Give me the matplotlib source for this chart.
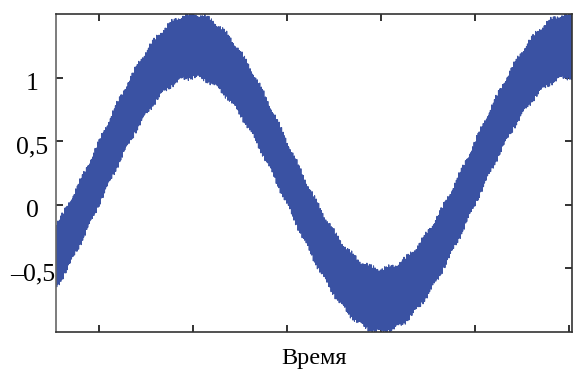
import numpy as np
import matplotlib
matplotlib.use("Agg")
import matplotlib.pyplot as plt
from matplotlib.ticker import FixedLocator, FuncFormatter, NullFormatter
from matplotlib.transforms import ScaledTranslation

# Signal parameters (time in ms)
t_range = [-2.29, 25.16]          # visible time window, ms
main_freq_hz = 50.0               # fundamental frequency
main_amplitude = 1.0              # amplitude of the fundamental
dc_offset = 0.25                  # constant offset
ripple_freq_hz = [37000.0, 23310.0, 51730.0]   # high-frequency ripple components
ripple_amplitude = [0.22, 0.03, 0.02]

x_ticks = [0, 5, 10, 15, 20, 25]
y_ticks = [-0.5, 0, 0.5, 1]
y_limits = [-1.0, 1.5]

plt.rcParams["font.family"] = ["Liberation Serif", "DejaVu Serif"]

t = np.linspace(t_range[0], t_range[1], 240000)
ts = t / 1000.0
signal = dc_offset + main_amplitude * np.sin(2 * np.pi * main_freq_hz * ts)
for f, a in zip(ripple_freq_hz, ripple_amplitude):
    signal = signal + a * np.sin(2 * np.pi * f * ts)

fig = plt.figure(figsize=(5.74, 3.71), dpi=100)
ax = fig.add_axes([56 / 574, 1 - 332 / 371, (572 - 56) / 574, (332 - 14) / 371])

ax.plot(t, signal, color="#3a52a3", lw=0.8)

ax.set_xlim(t_range)
ax.set_ylim(y_limits)

ax.xaxis.set_major_locator(FixedLocator(x_ticks))
ax.xaxis.set_major_formatter(NullFormatter())
ax.yaxis.set_major_locator(FixedLocator(y_ticks))


def comma_fmt(v, pos):
    s = f"{v:g}".replace(".", ",")
    return s.replace("-", "\u2013")


ax.yaxis.set_major_formatter(FuncFormatter(comma_fmt))

ax.tick_params(axis="both", which="major", direction="in", length=5, width=1.3,
               color="#222222", top=True, right=True, labelsize=18.5)
ax.tick_params(axis="y", pad=17)

for tick in ax.yaxis.get_major_ticks():
    tick.label1.set_transform(tick.label1.get_transform()
                              + ScaledTranslation(0, -0.04, fig.dpi_scale_trans))
    tick.label1.set_horizontalalignment("center")

for side in ["left", "bottom", "top", "right"]:
    ax.spines[side].set_color("#333333")
    ax.spines[side].set_linewidth(1.2)
ax.spines["left"].set_color("#666666")

ax.set_xlabel("Время", fontsize=17.5, labelpad=8)

fig.savefig("out.png", dpi=100)
